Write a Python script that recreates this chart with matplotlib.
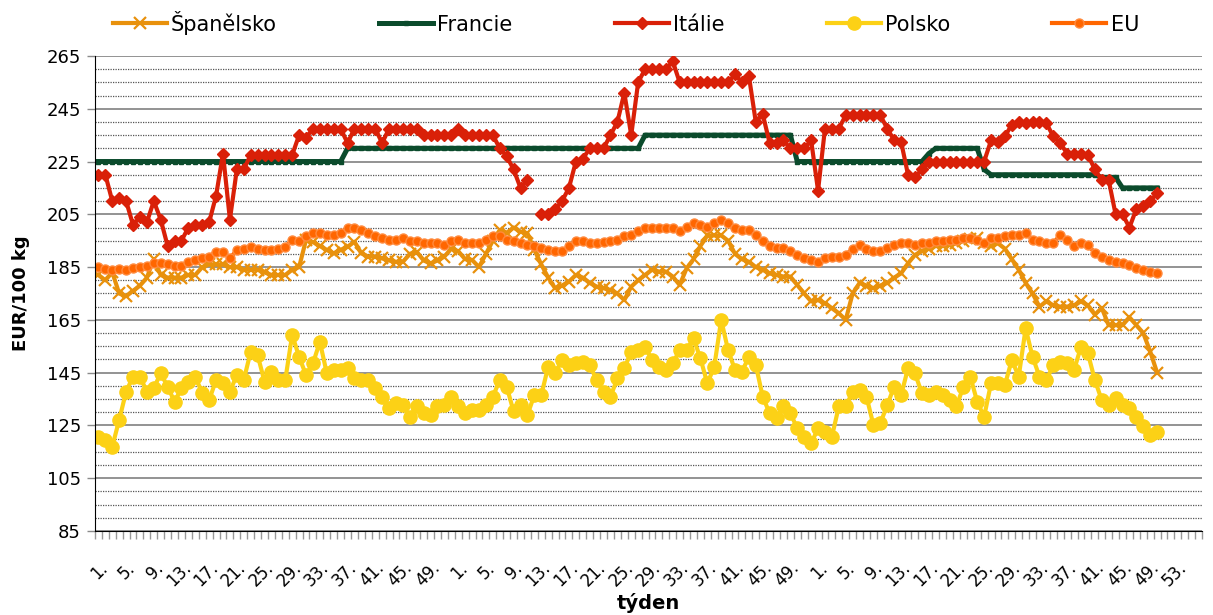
import numpy as np
import matplotlib
matplotlib.use("Agg")
import matplotlib.pyplot as plt

# week labels: three years of weekly data (axis keeps a few empty slots at the end)
weeks = list(range(1, 53)) + list(range(1, 53)) + list(range(1, 54))
n_slots = 160

nan = np.nan

spanelsko = [
    182, 180, 183, 175, 174, 176, 178, 181, 188, 182,
    181, 181, 181, 182, 182, 185, 186, 186, 186, 185,
    185, 184, 184, 184, 183, 182, 182, 182, 184, 185,
    195.3, 194.5, 193, 191.5, 190.2, 191.5, 192.7, 194.6, 190.2, 189,
    189, 188.3, 187.5, 187, 187, 190, 190.8, 187.5, 186.4, 187.5,
    189, 192,
    191, 188, 187.7, 185, 190, 195, 199, 198, 200, 198.4,
    197.8, 191.5, 186, 181, 177, 178, 179.5, 182, 181, 179,
    177.6, 177, 176.3, 175, 172.5, 177.6, 180, 182, 184, 183.3,
    183.3, 181.4, 178.2, 184.5, 188, 193, 197, 197, 197, 195,
    190, 188, 187, 185, 184, 182.6, 182, 181.4, 181.4, 178.2,
    175, 172,
    172.5, 171.3, 169.4, 167.5, 165, 175, 179, 178, 177, 178,
    179, 181, 182.6, 186.4, 189.6, 191, 192, 193, 193, 193.5,
    194, 195, 195.5, 196, 194, 193, 194, 192, 188, 184,
    179, 175, 170, 172, 170.5, 170, 170, 170.5, 172, 170.5,
    167, 169.5, 163, 163, 163, 166, 163, 160, 153, 145,
]

francie = [
    225, 225, 225, 225, 225, 225, 225, 225, 225, 225,
    225, 225, 225, 225, 225, 225, 225, 225, 225, 225,
    225, 225, 225, 225, 225, 225, 225, 225, 225, 225,
    225, 225, 225, 225, 225, 225, 230, 230, 230, 230,
    230, 230, 230, 230, 230, 230, 230, 230, 230, 230,
    230, 230,
    230, 230, 230, 230, 230, 230, 230, 230, 230, 230,
    230, 230, 230, 230, 230, 230, 230, 230, 230, 230,
    230, 230, 230, 230, 230, 230, 230, 235, 235, 235,
    235, 235, 235, 235, 235, 235, 235, 235, 235, 235,
    235, 235, 235, 235, 235, 235, 235, 235, 235, 225,
    225, 225,
    225, 225, 225, 225, 225, 225, 225, 225, 225, 225,
    225, 225, 225, 225, 225, 225, 228, 230, 230, 230,
    230, 230, 230, 230, 222, 220, 220, 220, 220, 220,
    220, 220, 220, 220, 220, 220, 220, 220, 220, 220,
    220, 219, 219, 219, 215, 215, 215, 215, 215, 215,
]

italie = [
    220, 220, 210, 211, 210, 201, 204, 202, 210, 203,
    193, 195, 195, 200, 201, 201, 202, 212, 228, 203,
    222, 222, 227.5, 227.5, 227.5, 227.5, 227.5, 227.5, 227.5, 235,
    234, 237.5, 237.5, 237.5, 237.5, 237.5, 232, 237.5, 237.5, 237.5,
    237.5, 232, 237.5, 237.5, 237.5, 237.5, 237.5, 235, 235, 235,
    235, 235,
    237.5, 235, 235, 235, 235, 235, 230, 227, 222, 215,
    218, nan, 205, 205, 207, 210, 215, 225, 226, 230,
    230, 230, 235, 240, 251, 235, 255, 260, 260, 260,
    260, 263, 255, 255, 255, 255, 255, 255, 255, 255,
    258, 255, 257.5, 240, 243, 232, 232, 233, 230, 230,
    230, 233,
    214, 237.5, 237.5, 237.5, 242.5, 242.5, 242.5, 242.5, 242.5, 242.5,
    237.5, 233, 232.5, 220, 219, 222, 225, 225, 225, 225,
    225, 225, 225, 225, 225, 233, 232.5, 234.5, 239, 240,
    239.5, 240, 240, 239.5, 234.5, 232, 228, 228, 228, 227.5,
    222, 218, 218, 205, 205, 200, 207, 208, 210, 213,
]

polsko = [
    120.7, 119.5, 117, 127.1, 137.8, 143.5, 143.5, 137.8, 139.1, 144.8,
    139.7, 134, 139.1, 141.6, 143.5, 137.2, 134.6, 142.2, 140.9, 137.8,
    144.1, 142.2, 152.9, 151.7, 141.6, 145.4, 142.2, 142.2, 159.3, 151,
    144.1, 148.5, 156.7, 144.8, 146, 146, 146.6, 142.8, 142.2, 142.2,
    139.1, 135.9, 131.5, 133.4, 132.8, 128.3, 132.2, 129.6, 129, 132.2,
    132.8, 135.9,
    132.2, 129.6, 130.9, 130.9, 132.8, 135.9, 142.2, 139.7, 130.3, 132.8,
    129, 136.5, 136.5, 147.3, 144.8, 149.8, 147.9, 148.5, 149.1, 147.9,
    142.2, 137.8, 135.9, 142.8, 146.6, 152.9, 153.5, 154.8, 149.8, 147.3,
    146, 148.5, 153.5, 153.5, 158, 150.4, 140.9, 147.3, 165, 153.5,
    146, 145.4, 151, 147.9, 135.9, 129.6, 127.7, 132.2, 129.6, 123.9,
    120.7, 118.2,
    123.9, 122.6, 120.7, 132.2, 132.2, 137.8, 138.4, 135.9, 125.2, 125.8,
    132.8, 139.7, 136.5, 146.6, 144.8, 137.2, 136.5, 137.8, 136.5, 134.6,
    132.2, 139.7, 143.5, 134, 128.3, 141, 141, 140.3, 149.8, 143.5,
    161.8, 151, 143.5, 142.2, 147.9, 149.1, 148.5, 146, 154.8, 152.3,
    142.2, 134.6, 132.8, 135.3, 132.8, 131.5, 128.3, 124.6, 121.4, 122.6,
]

eu = [
    185, 184.4, 183.8, 184.4, 184, 184.5, 185, 185.5, 186.6, 186.6,
    186, 185.5, 185.5, 187.1, 187.7, 188.3, 189, 190.8, 190.8, 188.3,
    191.4, 192, 192.6, 192, 191.4, 191.4, 192, 192.6, 195.3, 194.7,
    196.6, 197.8, 197.8, 197, 197, 197.8, 199.7, 199.7, 199, 197.8,
    196.6, 196, 195.3, 195.3, 196, 194.7, 194.7, 194.1, 194.1, 194,
    193.5, 194.7,
    195.3, 194.1, 194.1, 194, 195.3, 196.6, 196.6, 195.3, 194.7, 194,
    193.5, 192.9, 192.2, 191.6, 191, 191, 192.9, 194.7, 194.7, 194,
    194, 194.5, 194.7, 195.3, 196.6, 197.2, 198.5, 199.7, 199.7, 199.7,
    199.7, 199.7, 198.5, 200.3, 201.6, 201, 200.3, 201.6, 202.9, 201.6,
    199.7, 199, 199, 197.2, 194.7, 192.9, 192.2, 192.2, 191, 189.7,
    188.4, 187.8,
    187.1, 188.4, 189, 189, 189.7, 191.8, 193.2, 191.9, 191.2, 191,
    192.2, 193.5, 194, 194, 193.5, 194, 194, 194.7, 194.7, 195.3,
    195.3, 196, 196, 195.3, 194, 196, 196, 196.6, 197.2, 197.2,
    198.1, 195.3, 194.7, 194, 194, 197.2, 195.3, 192.9, 194, 193.5,
    190.3, 189, 187.8, 187.1, 186.5, 185.9, 184.6, 184, 183.3, 182.7,
]

series = [
    ("Španělsko", spanelsko, dict(color="#E8910C", marker="x", ms=8.5, mew=1.6, lw=3.0)),
    ("Francie", francie, dict(color="#0B4B2C", marker="s", ms=3.2, lw=3.6)),
    ("Itálie", italie, dict(color="#D92008", marker="D", ms=6.5, lw=3.0)),
    ("Polsko", polsko, dict(color="#FCD116", marker="o", ms=9.5, lw=3.0)),
    ("EU", eu, dict(color="#FF6600", marker="o", ms=6.5, lw=3.0, mec="#FF8A3D")),
]

fig = plt.figure(figsize=(12.13, 6.15), dpi=100)
ax = fig.add_axes([0.0783, 0.1366, 0.9127, 0.7724])

for name, vals, style in series:
    x = np.arange(len(vals))
    ax.plot(x, vals, label=name, **style)

# y axis
ax.set_ylim(85, 265)
ax.set_yticks(np.arange(85, 266, 20))
ax.set_yticks(np.arange(85, 266, 5), minor=True)
ax.grid(axis="y", which="major", color="#8a8a8a", lw=1.3, ls="-")
ax.grid(axis="y", which="minor", color="#555555", lw=0.9, ls=(0, (1, 1)))
ax.set_axisbelow(True)
ax.tick_params(axis="y", which="major", length=6, width=1, color="#8a8a8a",
               labelsize=13, pad=4)
ax.tick_params(axis="y", which="minor", length=0)

# x axis: a tick mark between every week, label every 4th week
ax.set_xlim(-0.5, n_slots - 0.5)
pos = np.arange(0, len(weeks), 4)
ax.set_xticks(pos)
ax.set_xticklabels([f"{weeks[p]}." for p in pos], rotation=45, ha="right",
                   rotation_mode="anchor", fontsize=12)
ax.set_xticks(np.arange(-0.5, n_slots, 1), minor=True)
ax.tick_params(axis="x", which="major", length=0, pad=20)
ax.tick_params(axis="x", which="minor", length=6, width=1, color="#999999")

for side in ["top", "right"]:
    ax.spines[side].set_visible(False)
ax.spines["left"].set_color("black")
ax.spines["bottom"].set_color("black")

ax.set_ylabel("EUR/100 kg", fontsize=13, fontweight="bold", labelpad=12)
ax.set_xlabel("týden", fontsize=14, fontweight="bold", labelpad=2)

fig.legend(loc="center", bbox_to_anchor=(0.516, 0.963), ncol=5, frameon=False,
           fontsize=15, handlelength=2.6, handletextpad=0.2, columnspacing=4.9)

fig.savefig("out.png", dpi=100)
